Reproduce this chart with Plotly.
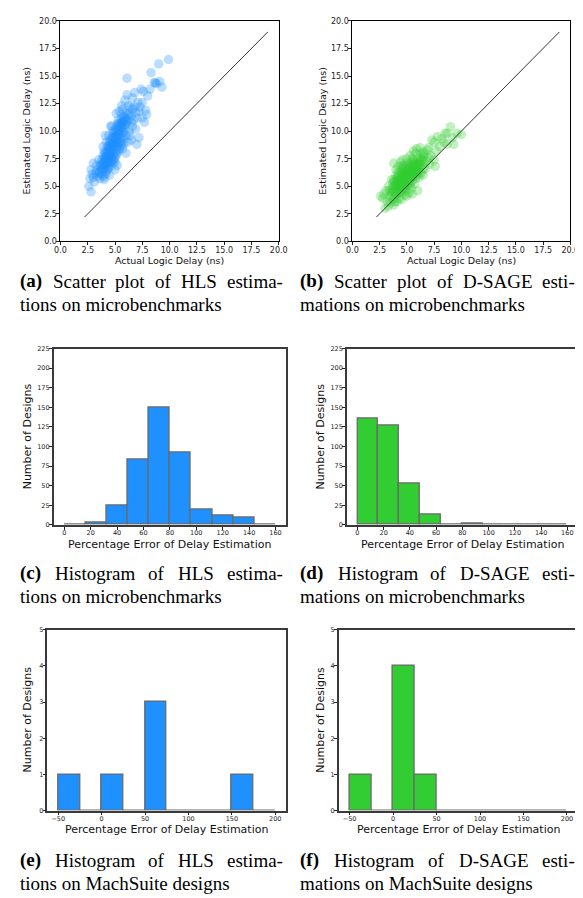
import plotly.graph_objects as go

# ---------------- data ----------------
hls_actual = [3.5,3.6,3.7,3.8,3.8,3.9,3.9,4.0,4.0,4.0,4.1,4.1,4.1,4.2,4.2,4.2,4.3,4.3,4.3,4.3,
              4.4,4.4,4.4,4.5,4.5,4.5,4.5,4.6,4.6,4.6,4.7,4.7,4.7,4.8,4.8,4.8,4.9,4.9,4.9,5.0,
              5.0,5.0,5.1,5.1,5.1,5.2,5.2,5.2,5.3,5.3,5.3,5.4,5.4,5.4,5.5,5.5,5.5,5.6,5.6,5.6,
              5.7,5.7,5.8,5.8,5.8,5.9,5.9,6.0,6.0,6.0,
              3.2,3.3,3.4,3.5,3.6,3.7,3.9,4.0,4.2,4.4,4.6,4.8,5.0,5.2,5.0,4.5,4.0,5.3,5.1,5.4,
              5.6,5.7,5.9,6.1,6.1,6.2,6.2,6.3,6.3,6.4,6.4,6.5,6.5,6.6,6.6,6.7,6.8,6.8,6.9,7.0,
              7.0,7.1,7.2,7.2,7.3,7.4,7.5,7.5,7.6,7.7,7.8,7.9,8.0,8.2,8.3,8.6,8.7,8.8,9.0,9.1,
              9.3,9.9,6.0,5.7,6.2,6.5,6.9,
              2.8,2.6,2.7,3.0,2.8,3.0,3.3,3.1,2.9,4.1,4.7,5.6,6.6,
              3.8,3.9,4.0,4.1,4.1,4.2,4.3,4.3,4.4,4.4,4.5,4.5,4.6,4.6,4.7,4.7,4.8,4.8,4.9,4.9,
              5.0,5.0,5.1,5.1,5.2,5.2,5.3,5.3,5.4,5.5,5.6,5.6,5.7,5.8,5.9,6.0,6.1,6.2,4.0,3.7,
              3.6,4.2,4.4,4.6,4.8,5.0,5.2,5.4,5.6,5.8]
hls_estimated = [6.2,6.8,7.0,6.5,7.4,6.0,7.8,6.6,7.2,8.2,6.3,7.0,7.6,6.8,7.4,8.0,6.5,7.1,7.8,8.6,
                 6.9,7.5,8.2,7.2,7.8,8.5,9.2,6.8,7.6,8.1,7.3,8.0,8.8,7.7,8.3,9.0,7.4,8.6,9.4,8.0,
                 8.8,9.6,7.8,8.4,9.1,8.6,9.3,10.0,8.2,8.9,9.6,9.0,9.8,10.5,8.6,9.4,10.2,9.1,9.9,10.8,
                 9.5,10.3,8.8,9.9,10.9,10.2,11.2,9.6,10.6,11.6,
                 6.2,6.9,5.9,7.4,5.7,6.1,8.6,5.8,9.0,9.6,10.4,10.0,7.2,6.9,6.5,6.0,5.6,11.0,11.6,11.8,
                 11.5,12.0,12.8,13.3,14.8,11.0,12.3,10.0,11.6,9.6,12.2,10.8,11.4,12.0,10.4,11.0,12.2,13.5,11.7,8.8,
                 11.2,12.6,9.4,11.8,12.2,13.8,12.6,11.2,13.6,10.8,11.9,11.5,13.2,13.8,15.3,14.4,14.4,14.3,16.1,14.5,
                 14.0,16.5,8.0,8.4,9.0,9.2,10.2,
                 4.5,5.0,5.7,5.8,6.5,7.1,6.4,5.4,6.1,9.6,10.5,12.3,13.0,
                 6.9,7.1,7.5,7.3,8.0,7.7,7.4,8.2,7.8,8.6,8.0,8.8,8.4,9.0,8.5,9.3,8.7,9.5,8.9,9.8,
                 9.2,10.1,9.5,10.3,9.7,10.6,10.1,10.7,10.2,10.7,10.4,11.1,10.8,11.3,10.6,11.0,10.8,11.5,6.9,6.6,
                 6.3,6.2,6.6,7.2,7.1,7.6,8.0,8.4,8.8,9.3]

dsage_actual = [3.5,3.6,3.7,3.8,3.8,3.9,3.9,4.0,4.0,4.0,4.1,4.1,4.1,4.2,4.2,4.2,4.3,4.3,4.3,4.4,
                4.4,4.4,4.5,4.5,4.5,4.5,4.6,4.6,4.6,4.7,4.7,4.7,4.7,4.8,4.8,4.8,4.9,4.9,4.9,5.0,
                5.0,5.0,5.1,5.1,5.1,5.2,5.2,5.2,5.3,5.3,5.3,5.4,5.4,5.4,5.5,5.5,5.5,5.6,5.6,5.6,
                5.7,5.7,5.8,5.8,5.8,5.9,5.9,6.0,6.0,6.0,6.1,6.1,6.2,6.2,6.3,6.3,6.4,6.5,6.5,6.6,
                2.6,2.8,2.9,3.0,3.1,3.2,3.3,3.3,3.4,3.5,3.6,3.7,3.8,3.8,4.0,4.1,4.3,4.2,4.4,4.6,
                4.8,5.0,5.2,5.5,6.0,5.0,5.3,5.5,5.8,5.9,6.2,6.5,6.6,6.8,6.9,7.0,7.1,7.2,7.3,7.5,
                7.5,7.6,7.7,7.8,8.0,8.2,8.4,8.5,8.7,8.7,9.0,9.2,9.3,9.6,10.0,6.5,6.7,7.0,6.3,5.6,
                6.1,5.7,5.4,4.9,4.5,3.9,
                3.8,3.9,4.0,4.1,4.2,4.3,4.3,4.4,4.5,4.5,4.6,4.6,4.7,4.7,4.8,4.8,4.9,4.9,5.0,5.0,
                5.1,5.1,5.2,5.2,5.3,5.3,5.4,5.4,5.5,5.5,5.6,5.7,5.8,5.9,6.0,6.1,4.4,4.0,3.7,4.2,
                4.6,5.0,5.6,6.2,3.6,3.4,4.8,5.3,5.8,6.4]
dsage_estimated = [4.2,4.8,5.3,4.5,5.6,4.0,5.0,4.6,5.4,6.0,4.3,5.1,5.7,4.8,5.5,6.2,4.5,5.2,5.9,4.9,
                   5.6,6.4,4.4,5.3,6.0,6.8,5.0,5.7,6.3,4.7,5.5,6.1,6.9,5.2,5.9,6.6,5.0,5.6,6.3,5.4,
                   6.0,6.8,5.1,5.8,6.5,5.6,6.2,7.0,5.3,6.0,6.7,5.8,6.4,7.2,5.5,6.2,6.9,5.9,6.6,7.4,
                   6.1,6.8,5.7,6.5,7.2,6.3,7.0,6.0,6.7,7.5,6.4,7.1,6.8,7.6,6.2,7.3,6.9,7.7,6.5,7.2,
                   4.1,3.9,4.3,3.0,4.6,3.6,3.2,5.0,4.0,3.5,5.6,3.8,3.3,7.1,6.5,3.6,3.9,6.8,7.2,7.4,
                   4.2,4.1,4.4,4.3,4.6,7.5,7.8,7.5,8.0,8.4,8.5,8.1,7.9,7.3,8.3,8.5,7.0,7.8,9.2,9.0,
                   7.4,6.8,8.2,9.5,8.6,9.3,9.0,9.8,9.8,8.8,10.4,9.4,8.8,9.8,9.7,6.0,6.6,7.6,8.0,8.2,
                   5.8,5.2,4.8,4.6,3.8,3.6,
                   5.0,5.4,5.1,4.8,5.2,5.5,4.9,5.3,5.7,5.0,5.4,6.0,5.2,5.8,5.6,6.2,5.9,5.3,5.7,6.4,
                   6.1,5.5,5.9,6.6,6.3,5.7,6.1,6.8,6.5,5.9,6.3,6.5,6.9,6.6,7.0,6.7,4.5,4.3,4.6,5.9,
                   6.6,7.1,7.0,7.2,4.4,4.6,4.8,5.1,6.1,7.4]

identity_line = [2.2, 19.0]

micro_bin_edges = [0, 16, 32, 48, 64, 80, 96, 112, 128, 144, 160]
hls_micro_counts = [0, 3, 25, 83, 150, 92, 20, 12, 9, 0]
dsage_micro_counts = [135, 127, 53, 13, 0, 1, 0, 0, 0, 0]

mach_bin_edges = [-50, -25, 0, 25, 50, 75, 100, 125, 150, 175, 200]
hls_mach_counts = [1, 0, 1, 0, 3, 0, 0, 0, 1, 0]
dsage_mach_counts = [1, 0, 4, 1, 0, 0, 0, 0, 0, 0]

scatter_ticks = [0, 2.5, 5, 7.5, 10, 12.5, 15, 17.5, 20]
micro_xticks = [0, 20, 40, 60, 80, 100, 120, 140, 160]
micro_yticks = [0, 25, 50, 75, 100, 125, 150, 175, 200, 225]
mach_xticks = [-50, 0, 50, 100, 150, 200]
mach_yticks = [0, 1, 2, 3, 4, 5]

caption_labels = ["(a)", "(b)", "(c)", "(d)", "(e)", "(f)"]
caption_line1 = ["Scatter plot of HLS estima-",
                 "Scatter plot of D-SAGE esti-",
                 "Histogram of HLS estima-",
                 "Histogram of D-SAGE esti-",
                 "Histogram of HLS estima-",
                 "Histogram of D-SAGE esti-"]
caption_line2 = ["tions on microbenchmarks",
                 "mations on microbenchmarks",
                 "tions on microbenchmarks",
                 "mations on microbenchmarks",
                 "tions on MachSuite designs",
                 "mations on MachSuite designs"]

BLUE = "#1E90FF"
GREEN = "#32CD32"
W, H = 583, 898

def px(x):
    return x / W

def py(y):
    return 1 - y / H

fig = go.Figure()

# scatter panels
for i, (ax, ey, col) in enumerate([(hls_actual, hls_estimated, BLUE),
                                   (dsage_actual, dsage_estimated, GREEN)]):
    n = "" if i == 0 else str(i + 1)
    fig.add_trace(go.Scatter(x=ax, y=ey, mode="markers",
                             marker=dict(size=9.5, color=col, opacity=0.3, line=dict(width=0)),
                             xaxis="x" + n, yaxis="y" + n, showlegend=False))
    fig.add_trace(go.Scatter(x=identity_line, y=identity_line, mode="lines",
                             line=dict(color="#333333", width=1),
                             xaxis="x" + n, yaxis="y" + n, showlegend=False))

def centers(edges):
    return [(edges[k] + edges[k + 1]) / 2 for k in range(len(edges) - 1)]

def widths(edges):
    return [edges[k + 1] - edges[k] for k in range(len(edges) - 1)]

hists = [(micro_bin_edges, hls_micro_counts, BLUE, 3),
         (micro_bin_edges, dsage_micro_counts, GREEN, 4),
         (mach_bin_edges, hls_mach_counts, BLUE, 5),
         (mach_bin_edges, dsage_mach_counts, GREEN, 6)]
for edges, counts, col, k in hists:
    fig.add_trace(go.Bar(x=centers(edges), y=counts, width=widths(edges),
                         marker=dict(color=col, line=dict(color="#6a6a6a", width=1.3)),
                         xaxis="x%d" % k, yaxis="y%d" % k, showlegend=False))

# panel pixel boxes: (left, right, top, bottom)
boxes = {
    1: (47.7, 271.7, 9, 231.7),
    2: (347.3, 571.0, 9, 231.7),
    3: (40.7, 279.3, 340, 518),
    4: (341.7, 578.7, 340, 518),
    5: (34.3, 279.3, 624, 806.7),
    6: (333.3, 578.7, 624, 806.7),
}

layout = dict(width=W, height=H, margin=dict(l=0, r=0, t=0, b=0),
              paper_bgcolor="white", plot_bgcolor="white",
              font=dict(family="DejaVu Sans", color="#111111"), bargap=0)

for k, (l, r, t, b) in boxes.items():
    n = "" if k == 1 else str(k)
    if k <= 2:
        xr, yr = [0, 20], [0, 20]
        xt, yt = scatter_ticks, scatter_ticks
        fmt = ".1f"
        tf = 8
        lc, lw = "#000000", 1
    elif k <= 4:
        xr, yr = [-8, 168], [0, 225]
        xt, yt = micro_xticks, micro_yticks
        fmt = None
        tf = 6.5
        lc, lw = "#3a3a3a", 1.5
    else:
        xr, yr = [-62.5, 212.5], [0, 5]
        xt, yt = mach_xticks, mach_yticks
        fmt = None
        tf = 6.5
        lc, lw = "#3a3a3a", 1.5
    common = dict(showgrid=False, zeroline=False, showline=True, mirror=True,
                  linecolor=lc, linewidth=lw, ticks="outside", ticklen=3,
                  tickwidth=0.8, tickcolor="#222222", ticklabelstandoff=-2,
                  tickfont=dict(size=tf, family="DejaVu Sans", color="#222222"))
    xa = dict(common, domain=[px(l), px(r)], range=xr, tickmode="array", tickvals=xt,
              anchor="y" + n)
    ya = dict(common, domain=[py(b), py(t)], range=yr, tickmode="array", tickvals=yt,
              anchor="x" + n)
    if fmt:
        xa["tickformat"] = fmt
        ya["tickformat"] = fmt
    layout["xaxis" + n] = xa
    layout["yaxis" + n] = ya

fig.update_layout(**layout)

ann = []
def add_text(x, y, text, size, angle=0, family="DejaVu Sans", xanchor="center", color="#111111"):
    ann.append(dict(x=px(x), y=py(y), xref="paper", yref="paper", text=text,
                    showarrow=False, font=dict(size=size, family=family, color=color),
                    textangle=angle, xanchor=xanchor, yanchor="middle", borderpad=0))

# axis titles
add_text(159.7, 251, "Actual Logic Delay (ns)", 9.5)
add_text(459.2, 251, "Actual Logic Delay (ns)", 9.5)
add_text(13, 120, "Estimated Logic Delay (ns)", 9.5, -90)
add_text(317, 120, "Estimated Logic Delay (ns)", 9.5, -90)
add_text(160, 538, "Percentage Error of Delay Estimation", 11)
add_text(460, 538, "Percentage Error of Delay Estimation", 11)
add_text(14, 429, "Number of Designs", 11, -90)
add_text(315, 429, "Number of Designs", 11, -90)
add_text(157, 826, "Percentage Error of Delay Estimation", 11)
add_text(456, 826, "Percentage Error of Delay Estimation", 11)
add_text(14, 715, "Number of Designs", 11, -90)
add_text(315, 715, "Number of Designs", 11, -90)

# Times-compatible advance widths (per 1000 em) for justified caption lines
REG = {" ": 250, "S": 556, "c": 444, "a": 444, "t": 278, "e": 444, "r": 333, "p": 500,
       "l": 278, "o": 500, "f": 333, "H": 722, "L": 611, "s": 389, "i": 278, "m": 778,
       "-": 333, "D": 722, "A": 722, "G": 722, "E": 611, "g": 500, "n": 500}
BOLD = {"(": 333, ")": 333, "a": 500, "b": 556, "c": 444, "d": 556, "e": 444, "f": 333}
CAP_SIZE = 19

def wwidth(word, table):
    return sum(table.get(ch, 500) for ch in word) / 1000 * CAP_SIZE

cap_rows = [272, 567, 857]
col_span = [(5, 274), (293, 574)]
for idx in range(6):
    row = idx // 2
    x0, x1 = col_span[idx % 2]
    y1 = cap_rows[row]
    words = caption_line1[idx].split(" ")
    widths_w = [wwidth(caption_labels[idx], BOLD)] + [wwidth(w, REG) for w in words]
    gap = (x1 - x0 - sum(widths_w)) / len(words)
    xpos = x0
    add_text(xpos, y1, "<b>%s</b>" % caption_labels[idx], CAP_SIZE,
             family="Liberation Serif", xanchor="left", color="#000000")
    xpos += widths_w[0] + gap
    for j, w in enumerate(words):
        add_text(xpos, y1, w, CAP_SIZE, family="Liberation Serif", xanchor="left", color="#000000")
        xpos += widths_w[j + 1] + gap
    add_text(x0, y1 + 23, caption_line2[idx], CAP_SIZE,
             family="Liberation Serif", xanchor="left", color="#000000")

fig.update_layout(annotations=ann)
fig.write_html("out.html")
